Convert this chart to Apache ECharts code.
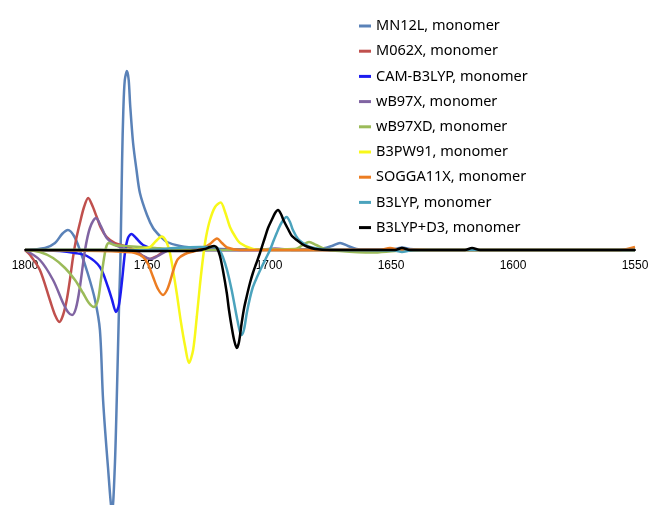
<!DOCTYPE html>
<html>
<head>
<meta charset="utf-8">
<script src="https://cdn.jsdelivr.net/npm/echarts@6/dist/echarts.min.js"></script>
<style>
  html, body { margin: 0; padding: 0; background: #ffffff; }
  #chart { width: 649px; height: 505px; }
</style>
</head>
<body>
<div id="chart"></div>
<script>
// Wavenumber range and tick step (cm^-1), drawn right-to-left
const xMin = 1550;
const xMax = 1800;
const xStep = 50;

const seriesNames = [
  'MN12L, monomer', 'M062X, monomer', 'CAM-B3LYP, monomer', 'wB97X, monomer',
  'wB97XD, monomer', 'B3PW91, monomer', 'SOGGA11X, monomer', 'B3LYP, monomer',
  'B3LYP+D3, monomer'
];

// Each spectrum: [wavenumber, intensity (arb. units)]
const mn12l = [
  [1800, 0], [1791.8, 2], [1787.7, 7], [1784.8, 16], [1782.4, 20], [1779.9, 14],
  [1777.5, 0], [1774.2, -24], [1771.3, -50], [1769.3, -80], [1768.0, -150],
  [1766.0, -217], [1764.3, -262], [1763.2, -217], [1762.4, -150], [1761.4, -50],
  [1760.9, -10], [1760.2, 90], [1759.7, 140], [1759.1, 170], [1758.2, 179],
  [1757.5, 170], [1756.9, 145], [1755.7, 107], [1754.3, 80], [1752.9, 57],
  [1750.0, 35], [1747.5, 22], [1744.7, 14], [1741.8, 8], [1736.5, 4],
  [1728.3, 2], [1707.8, 0.5], [1679.1, 1], [1674.2, 4], [1670.9, 7],
  [1667.6, 4], [1662.7, 0.5], [1648.4, 1], [1645.5, 2.5], [1642.2, 1],
  [1634, 0], [1550, 0]
];

const m062x = [
  [1800, 0], [1797.9, -5], [1793.9, -20], [1789.8, -50], [1787.7, -65],
  [1785.9, -72], [1784.4, -65], [1782.9, -50], [1781.6, -30], [1780.3, -7],
  [1779.1, 10], [1777.5, 27], [1775.8, 43], [1774.1, 52], [1772.5, 45],
  [1770.6, 33], [1768.9, 22], [1766.5, 13], [1763.1, 7], [1759.0, 4],
  [1754.9, 0], [1751.6, -6], [1748.8, -9], [1745.9, -6], [1742.6, -1],
  [1736.5, 0], [1550, 0]
];

const camB3lyp = [
  [1800, 0], [1785.7, -1], [1779.5, -3], [1774.6, -6], [1769.3, -17],
  [1766.0, -37], [1764.3, -50], [1762.7, -62], [1761.5, -55], [1760.2, -30],
  [1759.0, -2], [1757.8, 12], [1756.4, 16], [1754.5, 12], [1751.6, 5],
  [1746.7, 1], [1740.6, 0], [1550, 0]
];

const wb97x = [
  [1800, 0], [1793.9, -10], [1788.5, -30], [1784.4, -53], [1782.4, -62],
  [1780.7, -65], [1779.1, -58], [1777.5, -37], [1775.4, 0], [1773.4, 22],
  [1770.9, 32], [1768.9, 24], [1766.5, 12], [1763.1, 5], [1759.0, 1],
  [1754.9, -2], [1750.8, -7], [1748.4, -9], [1745.5, -6], [1741.8, -1],
  [1736.5, 0], [1705, 0], [1697.5, 1.5], [1690, 0], [1550, 0]
];

const wb97xd = [
  [1800, 0], [1793.9, -2], [1788.5, -8], [1783.6, -18], [1779.5, -30],
  [1776.2, -43], [1773.8, -53], [1771.7, -57], [1770.1, -50], [1768.9, -30],
  [1767.6, -8], [1766.6, 4], [1765.6, 7], [1763.5, 5], [1759.0, 4],
  [1752.9, 3], [1746.7, 2], [1740.6, 1], [1728.3, 0], [1689.3, 1],
  [1686.1, 5], [1683.6, 8], [1680.7, 5], [1677.0, 1], [1670.9, -1],
  [1657.8, -2.5], [1648.4, -1], [1638, 0], [1550, 0]
];

const b3pw91 = [
  [1800, 0], [1761.1, 0], [1752.9, 1], [1748.8, 3], [1746.3, 9],
  [1744.0, 13.5], [1742.2, 9], [1740.6, -3], [1739.0, -25], [1737.7, -45],
  [1736.1, -72], [1734.4, -96], [1732.8, -113], [1731.1, -100], [1729.6, -67],
  [1728.3, -35], [1727.0, -7], [1725.8, 13], [1724.2, 30], [1722.1, 43],
  [1719.8, 47.5], [1718.0, 38], [1716.0, 23], [1714.0, 14], [1711.9, 7],
  [1706.6, 1], [1701.6, 0], [1550, 0]
];

const sogga11x = [
  [1800, 0], [1769.3, -1], [1759.0, -2], [1754.9, -3], [1751.6, -7],
  [1749.6, -14], [1747.5, -27], [1745.5, -39], [1743.4, -45], [1741.8, -40],
  [1740.6, -32], [1738.9, -18], [1737.3, -9], [1734.4, -4], [1730.3, -1],
  [1727.0, 2], [1724.2, 6], [1721.3, 11.5], [1719.3, 7], [1717.2, 2.5],
  [1711.9, 0], [1654.5, 0], [1650.4, 2], [1646.3, 0], [1556.1, 0], [1550, 3]
];

const b3lyp = [
  [1800, 0], [1748.8, 0], [1738.5, 2], [1728.3, 3], [1722.1, 3],
  [1720.1, -1], [1718.9, -7], [1717.2, -20], [1715.3, -40], [1713.2, -67],
  [1711.9, -82], [1711.2, -85], [1710.2, -79], [1709.1, -63], [1707.8, -48],
  [1706.6, -37], [1704.9, -27], [1703.0, -17], [1701.2, -8], [1699.6, 0],
  [1698.0, 10], [1696.3, 20], [1694.7, 28], [1692.8, 33], [1691.4, 28],
  [1690.2, 20], [1688.1, 11], [1686.1, 7], [1683.2, 3], [1679.1, 1],
  [1673.0, 0], [1648.4, -0.5], [1645.5, -2], [1642.2, -0.5], [1634, 0],
  [1550, 0]
];

const b3lypD3 = [
  [1800, 0], [1769.3, 0], [1748.8, -1], [1732.4, -1], [1726.2, 1],
  [1724.2, 3], [1722.5, 4], [1721.3, 2], [1720.1, -6], [1718.9, -20],
  [1717.3, -43], [1716.4, -60], [1715.3, -77], [1714.3, -90], [1713.2, -98],
  [1712.3, -92], [1711.2, -73], [1710.2, -58], [1709.1, -46], [1707.8, -33],
  [1706.6, -23], [1705.3, -14], [1703.7, -3], [1701.6, 13], [1700.4, 22],
  [1698.9, 30], [1697.5, 37], [1696.3, 40], [1695.1, 36], [1693.9, 29],
  [1692.2, 21], [1690.6, 14], [1688.6, 10], [1686.5, 6], [1684.5, 3.5],
  [1681.1, 1], [1675.0, 0], [1648.4, 0], [1645.5, 2], [1642.2, 0],
  [1619.7, 0], [1616.8, 2], [1613.5, 0], [1550, 0]
];

const seriesData = [mn12l, m062x, camB3lyp, wb97x, wb97xd, b3pw91, sogga11x, b3lyp, b3lypD3];
const seriesColors = ['#5a82b8', '#c0504d', '#1c1cf0', '#8064a2', '#9bbb59',
                      '#f8f81a', '#ec7d22', '#4ba3bd', '#000000'];

// Intensity range of the plot; zero sits where the wavenumber axis crosses
const yMin = -255;
const yMax = 250;

const chart = echarts.init(document.getElementById('chart'), null, { renderer: 'canvas' });

const plotBox = { left: 25, right: 14 };

chart.setOption({
  animation: false,
  backgroundColor: '#ffffff',
  grid: [
    // spectra
    { left: plotBox.left, right: plotBox.right, top: 0, bottom: 0, outerBoundsMode: 'none' },
    // upper half: its bottom edge is the zero line, carrying the wavenumber axis
    { left: plotBox.left, right: plotBox.right, top: 0, height: 505 * yMax / (yMax - yMin), outerBoundsMode: 'none' }
  ],
  legend: {
    orient: 'vertical',
    left: 354,
    top: 13,
    icon: 'rect',
    itemWidth: 12,
    itemHeight: 3,
    itemGap: 9.2,
    textStyle: { fontFamily: 'Noto Sans', fontSize: 14.5, color: '#000', lineHeight: 16 },
    data: seriesNames
  },
  xAxis: [
    {
      gridIndex: 0, type: 'value', min: xMin, max: xMax, interval: xStep, inverse: true,
      show: false
    },
    {
      gridIndex: 1, type: 'value', min: xMin, max: xMax, interval: xStep, inverse: true,
      position: 'bottom',
      axisLine: { show: true, onZero: false, lineStyle: { color: '#000', width: 2 } },
      axisTick: { show: false },
      splitLine: { show: false },
      axisLabel: {
        fontFamily: 'Liberation Sans', fontSize: 12, color: '#000', margin: 10,
        formatter: (v) => String(v)
      }
    }
  ],
  yAxis: [
    { gridIndex: 0, type: 'value', min: yMin, max: yMax, show: false },
    { gridIndex: 1, type: 'value', min: 0, max: yMax, show: false }
  ],
  series: seriesNames.map((name, i) => ({
    name,
    type: 'line',
    xAxisIndex: 0,
    yAxisIndex: 0,
    data: seriesData[i],
    showSymbol: false,
    symbol: 'none',
    smooth: 0.3,
    clip: true,
    color: seriesColors[i],
    lineStyle: { width: 2.5, color: seriesColors[i] },
    z: 2 + i
  }))
});
</script>
</body>
</html>
